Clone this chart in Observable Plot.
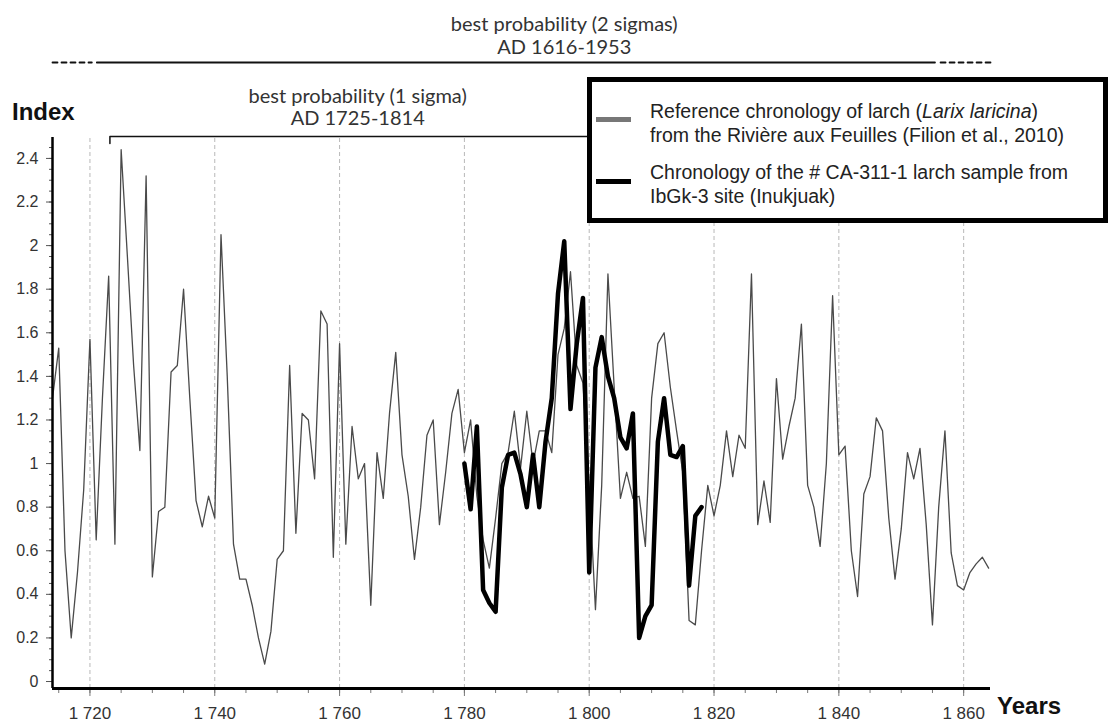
<!DOCTYPE html>
<html>
<head>
<meta charset="utf-8">
<script src="https://cdn.jsdelivr.net/npm/d3@7"></script>
<script src="https://cdn.jsdelivr.net/npm/@observablehq/plot@0.6"></script>
<style>
  body { margin: 0; background: #fff; }
  #wrap { position: relative; width: 1108px; height: 722px; overflow: hidden; font-family: "Liberation Sans", Arial, sans-serif; }
  #chart svg { display: block; }
  .big { position: absolute; font-weight: bold; font-size: 24px; line-height: 24px; color: #111; font-family: "Liberation Sans", Arial, sans-serif; }
  #legend { position: absolute; left: 587px; top: 77px; width: 521px; height: 146px; box-sizing: border-box; border: 5px solid #000; background: #fff; }
  .sw { position: absolute; left: 4px; width: 35px; }
  .lt { position: absolute; left: 58px; font-size: 19.5px; line-height: 24px; color: #222; white-space: nowrap; }
</style>
</head>
<body>
<div id="wrap">
  <div id="chart"></div>
  <div class="big" style="left:12px; top:100px;">Index</div>
  <div class="big" style="left:997px; top:694px;">Years</div>
  <div id="legend">
    <div class="sw" style="top:35px; height:5px; background:#777;"></div>
    <div class="lt" style="top:17px;">Reference chronology of larch (<i>Larix laricina</i>)<br>from the Rivière aux Feuilles (Filion et al., 2010)</div>
    <div class="sw" style="top:97px; height:5px; background:#000;"></div>
    <div class="lt" style="top:78px;">Chronology of the # CA-311-1 larch sample from<br>IbGk-3 site (Inukjuak)</div>
  </div>
</div>
<script>
// ---- data ----
const refStartYear = 1714;
const refValues = [
  1.3, 1.53, 0.6, 0.2, 0.5, 0.88, 1.57, 0.65, 1.3, 1.86,      // 1714-1723
  0.63, 2.44, 1.95, 1.45, 1.06, 2.32, 0.48, 0.78, 0.8, 1.42,  // 1724-1733
  1.45, 1.8, 1.3, 0.83, 0.71, 0.85, 0.75, 2.05, 1.4, 0.63,    // 1734-1743
  0.47, 0.47, 0.35, 0.2, 0.08, 0.23, 0.56, 0.6, 1.45, 0.68,   // 1744-1753
  1.23, 1.2, 0.93, 1.7, 1.64, 0.57, 1.55, 0.63, 1.17, 0.93,   // 1754-1763
  1.0, 0.35, 1.05, 0.84, 1.23, 1.51, 1.04, 0.85, 0.56, 0.8,   // 1764-1773
  1.13, 1.2, 0.72, 0.96, 1.23, 1.34, 1.05, 1.2, 0.85, 0.65,   // 1774-1783
  0.52, 0.75, 1.0, 1.05, 1.24, 0.98, 1.24, 1.0, 1.15, 1.15,   // 1784-1793
  1.05, 1.5, 1.62, 1.88, 1.45, 1.37, 0.9, 0.33, 0.9, 1.87,    // 1794-1803
  1.35, 0.84, 0.96, 0.84, 0.85, 0.62, 1.3, 1.55, 1.6, 1.35,   // 1804-1813
  1.15, 0.96, 0.28, 0.26, 0.6, 0.9, 0.76, 0.9, 1.15, 0.94,    // 1814-1823
  1.13, 1.07, 1.87, 0.72, 0.92, 0.73, 1.39, 1.02, 1.17, 1.3,  // 1824-1833
  1.64, 0.9, 0.8, 0.62, 1.0, 1.77, 1.04, 1.08, 0.6, 0.39,     // 1834-1843
  0.86, 0.94, 1.21, 1.15, 0.75, 0.47, 0.7, 1.05, 0.93, 1.07,  // 1844-1853
  0.72, 0.26, 0.8, 1.15, 0.59, 0.44, 0.42, 0.5, 0.54, 0.57,   // 1854-1863
  0.52                                                        // 1864
];
const sampleStartYear = 1780;
const sampleValues = [
  1.0, 0.79, 1.17, 0.42, 0.36, 0.32, 0.89, 1.04, 1.05, 0.95,  // 1780-1789
  0.8, 1.04, 0.8, 1.1, 1.3, 1.78, 2.02, 1.25, 1.55, 1.76,     // 1790-1799
  0.5, 1.44, 1.58, 1.4, 1.3, 1.12, 1.07, 1.23, 0.2, 0.3,      // 1800-1809
  0.35, 1.1, 1.3, 1.04, 1.03, 1.08, 0.44, 0.76, 0.8           // 1810-1818
];
const xTickYears = [1720, 1740, 1760, 1780, 1800, 1820, 1840, 1860];
const xMinorYears = d3.range(1715, 1865, 5);
const yTickValues = d3.range(0, 2.41, 0.2);
const yMinorValues = d3.range(0, 2.49, 0.05);
const xDomain = [1714, 1864.3];
const yDomain = [-0.032, 2.496];

// annotation texts and extents (years)
const sigma2Texts = ["best probability (2 sigmas)", "AD 1616-1953"];
const sigma1Texts = ["best probability (1 sigma)", "AD 1725-1814"];
const sigma2Solid = [1721.1, 1855.4];
const sigma2DashL = [1714, 1720.3];
const sigma2DashR = [1856.3, 1864.3];
const sigma2TextYear = 1796.0;
const sigma1TextYear = 1762.9;
const sigma1Bracket = [1723.2, 1814];

// ---- layout ----
const W = 1108, H = 722, MT = 137, MB = 34, ML = 52, MR = 118;
const pxPerUnit = (H - MT - MB) / (yDomain[1] - yDomain[0]);
const yAt = px => yDomain[1] - (px - MT) / pxPerUnit;

const ref = refValues.map((v, i) => ({year: refStartYear + i, value: v}));
const sample = sampleValues.map((v, i) => ({year: sampleStartYear + i, value: v}));

const s2y = [yAt(24), yAt(47)];
const s1y = [yAt(96), yAt(118)];
const s2Line = yAt(62);
const bTop = yAt(136), bBot = yAt(143);

const annFont = "Lato, 'Open Sans', sans-serif";

const plot = Plot.plot({
  width: W, height: H,
  marginTop: MT, marginBottom: MB, marginLeft: ML, marginRight: MR,
  x: {domain: xDomain},
  y: {domain: yDomain},
  style: {fontFamily: "'Liberation Sans', Arial, sans-serif", fontSize: "16px", color: "#333", background: "white", overflow: "visible"},
  marks: [
    Plot.ruleX(xTickYears, {y1: yDomain[0], y2: yDomain[1], stroke: "#b8b8b8", strokeDasharray: "4,3", strokeWidth: 1}),
    Plot.axisY(yMinorValues, {anchor: "left", tickSize: 3, tickFormat: () => "", label: null, stroke: "#555"}),
    Plot.axisY(yTickValues, {anchor: "left", tickSize: 6, tickPadding: 8, tickFormat: d => String(+d.toFixed(1)), label: null, stroke: "#555"}),
    Plot.axisX(xMinorYears, {anchor: "bottom", tickSize: 5, tickFormat: () => "", label: null, stroke: "#777"}),
    Plot.axisX(xTickYears, {anchor: "bottom", tickSize: 8, tickPadding: 10, fontSize: 17, tickFormat: d => "1 " + String(d).slice(1), label: null, stroke: "#777"}),
    Plot.line(ref, {x: "year", y: "value", stroke: "#4a4a4a", strokeWidth: 1.3}),
    Plot.line(sample, {x: "year", y: "value", stroke: "#000", strokeWidth: 4.5, strokeLinejoin: "round"}),
    Plot.ruleX([xDomain[0]], {y1: yDomain[0], y2: yDomain[1], stroke: "#000", strokeWidth: 2.5}),
    Plot.ruleY([yDomain[0]], {x1: xDomain[0], x2: xDomain[1], stroke: "#000", strokeWidth: 3}),
    // 2 sigma annotation
    Plot.text(sigma2Texts, {x: sigma2TextYear, y: (d, i) => s2y[i], text: d => d, fontSize: 20, fontFamily: annFont, fill: "#333"}),
    Plot.line(sigma2Solid, {x: d => d, y: s2Line, stroke: "#111", strokeWidth: 1.8}),
    Plot.line(sigma2DashL, {x: d => d, y: s2Line, stroke: "#111", strokeWidth: 1.8, strokeDasharray: "5,4"}),
    Plot.line(sigma2DashR, {x: d => d, y: s2Line, stroke: "#111", strokeWidth: 1.8, strokeDasharray: "5,4"}),
    // 1 sigma annotation
    Plot.text(sigma1Texts, {x: sigma1TextYear, y: (d, i) => s1y[i], text: d => d, fontSize: 20, fontFamily: annFont, fill: "#333"}),
    Plot.line([{x: sigma1Bracket[0], y: bBot}, {x: sigma1Bracket[0], y: bTop}, {x: sigma1Bracket[1], y: bTop}], {x: "x", y: "y", stroke: "#111", strokeWidth: 1.5})
  ]
});
document.getElementById("chart").appendChild(plot);
</script>
</body>
</html>
